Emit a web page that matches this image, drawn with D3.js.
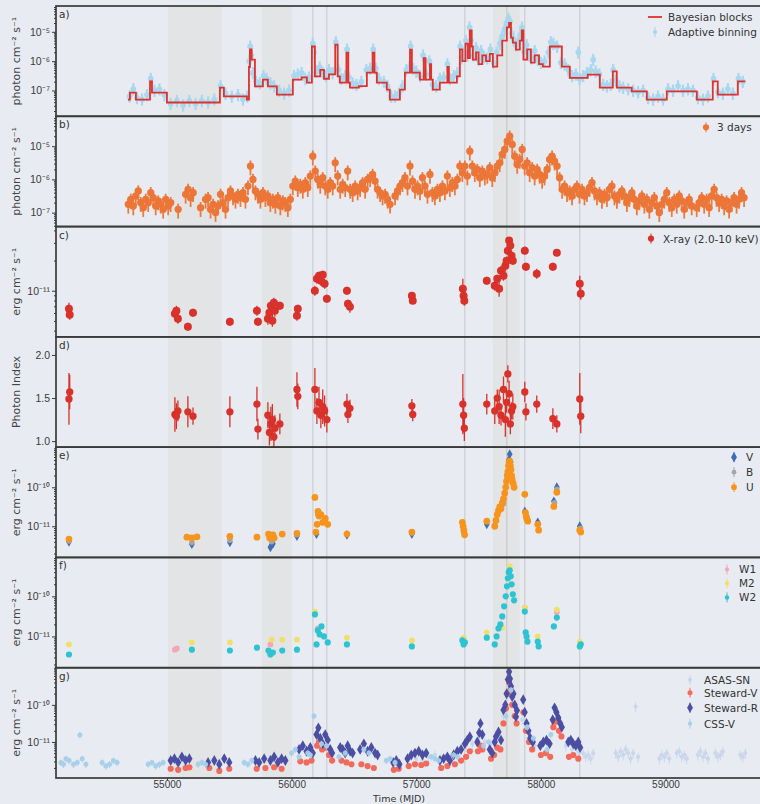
<!DOCTYPE html>
<html lang="en">
<head>
<meta charset="utf-8">
<title>Multi-wavelength light curves</title>
<script src="https://d3js.org/d3.v7.min.js"></script>
<style>
  body { margin: 0; background: #e8ecf2; }
  svg { display: block; font-family: "DejaVu Sans", sans-serif; }
  .tick text { fill: #3a3a3a; font-size: 10.5px; }
  .tick line { stroke: #3a3a3a; }
  .domain { display: none; }
  .leg { fill: #333; font-size: 10.5px; }
</style>
</head>
<body>
<script>
// ---------- data (time in MJD, fluxes as log10 values) ----------

var shadeBands = [[55008, 55441], [55762, 56002], [57614, 57831]];
var markLines = [56171, 56283, 57390, 57727, 57871, 58312];

// a) Fermi-LAT: Bayesian blocks (block start, log flux) and adaptive binning
var bbStart = [54687, 54703, 54751, 54864, 54880, 55000, 55425, 55457, 55642, 55658, 55666, 55680, 55706, 55770, 55810, 55882, 56010, 56080, 56123, 56163, 56187, 56230, 56260, 56300, 56350, 56370, 56387, 56440, 56455, 56468, 56540, 56604, 56650, 56665, 56684, 56764, 56788, 56869, 56909, 56950, 56965, 57029, 57060, 57075, 57110, 57120, 57133, 57189, 57250, 57262, 57326, 57350, 57370, 57395, 57415, 57430, 57445, 57454, 57480, 57500, 57530, 57560, 57590, 57615, 57650, 57690, 57727, 57745, 57760, 57775, 57800, 57831, 57847, 57860, 57890, 57920, 57950, 57985, 58016, 58072, 58168, 58232, 58376, 58473, 58577, 58609, 58729, 58850, 59010, 59251, 59379, 59419, 59580];
var bbLogF = [-7.31, -7.07, -7.31, -6.69, -7.07, -7.41, -6.9, -7.2, -7.31, -6.2, -5.6, -5.95, -6.86, -6.63, -6.86, -7.14, -6.63, -6.55, -6.73, -5.5, -6.52, -6.3, -6.6, -6.45, -5.44, -6.52, -6.73, -5.71, -6.73, -6.9, -6.85, -6.39, -5.71, -6.39, -6.73, -6.97, -7.31, -6.97, -6.39, -5.61, -6.39, -6.63, -5.9, -6.63, -6.1, -6.63, -6.97, -6.73, -6.2, -6.73, -6.52, -5.6, -6.0, -5.4, -5.9, -4.95, -5.5, -5.95, -5.7, -6.1, -5.8, -6.0, -5.75, -6.19, -5.8, -5.3, -4.85, -4.7, -5.2, -5.37, -5.61, -5.3, -4.95, -5.95, -5.6, -6.05, -5.8, -6.1, -6.19, -5.5, -6.19, -6.57, -6.46, -6.9, -6.35, -6.9, -7.03, -7.31, -7.03, -7.31, -6.69, -7.14, -6.69];
var bbEnd = 59640;

var adaptive = [[54700, -7.2], [54730, -6.95], [54760, -7.25], [54800, -7.3], [54840, -7.15], [54870, -6.6], [54900, -7.0], [54940, -6.95], [54980, -7.15], [55030, -7.45], [55080, -7.35], [55130, -7.5], [55180, -7.35], [55230, -7.45], [55280, -7.35], [55330, -7.4], [55380, -7.3], [55430, -6.85], [55470, -7.1], [55520, -7.2], [55570, -7.15], [55610, -7.3], [55645, -7.2], [55660, -6.0], [55668, -5.5], [55676, -5.8], [55690, -6.4], [55715, -6.7], [55745, -6.75], [55775, -6.5], [55800, -6.6], [55830, -6.75], [55860, -6.85], [55900, -7.0], [55940, -7.1], [55980, -7.0], [56020, -6.5], [56050, -6.45], [56080, -6.4], [56110, -6.6], [56140, -6.55], [56170, -5.4], [56180, -5.7], [56200, -6.35], [56225, -6.2], [56250, -6.4], [56275, -6.5], [56300, -6.3], [56330, -6.4], [56355, -5.35], [56375, -6.3], [56400, -6.6], [56430, -6.5], [56445, -5.6], [56460, -6.55], [56490, -6.75], [56520, -6.8], [56560, -6.7], [56600, -6.3], [56630, -6.25], [56655, -5.6], [56675, -6.25], [56700, -6.6], [56740, -6.7], [56770, -6.85], [56800, -7.2], [56830, -7.2], [56860, -7.1], [56890, -6.85], [56920, -6.3], [56945, -6.2], [56955, -5.5], [56975, -6.25], [57000, -6.35], [57030, -6.5], [57055, -5.8], [57080, -6.45], [57105, -6.0], [57130, -6.8], [57160, -6.85], [57190, -6.6], [57220, -6.55], [57250, -6.1], [57270, -6.6], [57300, -6.5], [57330, -6.4], [57352, -5.5], [57365, -5.9], [57385, -5.7], [57398, -5.3], [57412, -5.8], [57428, -4.85], [57440, -5.3], [57460, -5.8], [57480, -5.55], [57500, -5.95], [57520, -5.65], [57545, -5.85], [57570, -5.9], [57595, -5.6], [57620, -6.05], [57645, -5.7], [57670, -5.4], [57690, -5.15], [57710, -4.9], [57725, -4.7], [57740, -4.55], [57752, -4.65], [57765, -5.05], [57780, -5.25], [57800, -5.45], [57820, -5.3], [57835, -5.1], [57848, -4.85], [57865, -5.7], [57885, -5.45], [57905, -5.8], [57925, -5.9], [57950, -5.65], [57975, -5.95], [58000, -6.05], [58030, -6.0], [58060, -5.7], [58080, -5.35], [58100, -5.4], [58130, -5.5], [58160, -6.05], [58190, -6.1], [58220, -6.3], [58250, -6.5], [58280, -6.45], [58300, -5.7], [58310, -6.6], [58340, -6.5], [58370, -6.4], [58400, -6.3], [58420, -5.95], [58440, -6.35], [58470, -6.45], [58500, -6.8], [58530, -6.85], [58560, -6.8], [58580, -6.3], [58600, -6.65], [58630, -6.85], [58660, -6.9], [58700, -6.95], [58740, -7.0], [58780, -7.05], [58820, -7.0], [58860, -7.25], [58900, -7.3], [58940, -7.2], [58980, -7.3], [59020, -6.95], [59060, -7.0], [59100, -6.85], [59140, -7.0], [59180, -6.95], [59220, -7.0], [59260, -7.25], [59300, -7.3], [59340, -7.2], [59385, -6.6], [59420, -7.05], [59460, -7.1], [59500, -6.95], [59540, -7.1], [59585, -6.6], [59620, -6.7]];

// b) 3-day binned light curve, one value per 20 days starting at 54690 (null = no detection)
var b3dStart = 54690, b3dStep = 20;
var b3dLogF = [
  -6.75, -6.6, -6.8, -6.5, -6.35, -6.7, -6.85, -6.6, -6.7, -6.4,
  -6.55, -6.8, -6.65, -6.75, -6.9, -6.6, -6.8, -6.7, null, null,
  -6.9, null, null, -6.45, -6.3, -6.55, -6.4, null, null, -6.85,
  null, -6.6, -6.55, -6.9, -6.75, -7.0, -6.8, -6.45, -6.7, -6.9,
  -6.55, -6.35, -6.5, -6.6, -6.45, -6.55, -6.4, -6.6, -6.2, -5.6,
  -6.0, -6.35, -6.45, -6.6, -6.4, -6.55, -6.5, -6.7, -6.6, -6.75,
  -6.55, -6.8, -6.65, -6.7, -6.85, -6.6, -6.2, -6.05, -6.25, -6.15,
  -6.3, -6.1, -6.25, -5.9, -5.3, -5.75, -6.0, -6.15, -5.95, -6.2,
  -6.3, -6.1, -6.2, -5.5, -5.9, -6.3, -6.15, -6.25, -5.75, -6.3,
  -6.4, -6.2, -6.35, -6.25, -6.1, -6.3, -6.0, -5.95, -5.85, -6.05,
  -6.3, -6.4, -6.5, -6.45, -6.6, -6.75, null, -6.5, -6.35, -6.2,
  -6.1, -5.95, -6.2, -5.6, -6.05, -6.3, -6.2, -6.35, -5.95, -6.2,
  -6.45, -5.85, -6.4, -6.5, -6.3, -6.4, -6.2, -6.35, -5.9, -6.25,
  -6.1, -6.2, -6.0, -5.6, -5.8, -5.6, -5.9, -5.15, -5.6, -5.8,
  -5.7, -5.95, -5.75, -5.9, -5.85, -5.65, -5.95, -5.8, -5.6, -5.5,
  -5.25, -5.1, -4.85, -4.7, -4.95, -5.3, -5.55, -5.4, -5.1, -5.6,
  -5.5, -5.8, -5.65, -5.9, -5.7, -5.85, -6.0, -5.9, -5.7, -5.4,
  -5.3, -5.45, -5.6, -5.95, -6.3, -6.2, -6.4, -6.35, -6.5, -6.3,
  -6.2, -6.45, -6.3, -6.5, -6.4, -6.25, -6.1, -6.35, -6.5, -6.4,
  -6.6, -6.45, -6.55, -6.3, -6.2, -6.5, -6.6, -6.45, -6.35, -6.5,
  -6.7, -6.55, -6.4, -6.6, -6.8, -6.65, -6.5, -6.75, -6.6, -6.9,
  -6.7, -6.55, -6.8, -7.0, -6.75, -6.6, -6.4, -6.7, -6.85, -6.6,
  -6.75, -6.5, -6.65, -6.9, -6.7, -6.6, -6.8, null, -6.85, -6.7,
  -6.55, -6.75, -6.6, -6.85, -6.5, -6.3, -6.55, -6.7, -6.6, -6.8,
  -6.65, -6.9, -6.7, -6.55, -6.75, -6.6, -6.4, -6.55
];

// c) + d) Swift-XRT: flux (log, 2-10 keV), error (dex), photon index and error
var xrT = [54214, 54220, 55064, 55076, 55088, 55168, 55209, 55505, 55722, 55730, 55810, 55822, 55834, 55846, 55858, 55866, 55906, 56043, 56050, 56187, 56203, 56220, 56235, 56250, 56265, 56283, 56444, 56452, 56468, 56965, 56972, 57374, 57380, 57386, 57566, 57630, 57650, 57665, 57680, 57700, 57715, 57725, 57735, 57745, 57755, 57765, 57775, 57871, 57880, 57967, 58096, 58128, 58312, 58320];
var xrLogF = [-11.18, -11.24, -11.23, -11.2, -11.28, -11.36, -11.22, -11.31, -11.2, -11.31, -11.28, -11.22, -11.15, -11.3, -11.12, -11.2, -11.15, -11.25, -11.18, -11.0, -10.88, -10.85, -10.9, -10.84, -10.93, -11.08, -11.0, -11.13, -11.16, -11.05, -11.1, -10.98, -11.05, -11.1, -10.9, -10.95, -10.88, -10.98, -10.8, -10.85, -10.75, -10.7, -10.6, -10.5, -10.55, -10.65, -10.7, -10.6, -10.76, -10.83, -10.76, -10.62, -10.93, -11.03];
var xrFErr = [0.06, 0.05, 0.05, 0.05, 0.05, 0.04, 0.04, 0.04, 0.05, 0.04, 0.06, 0.05, 0.05, 0.06, 0.05, 0.06, 0.04, 0.05, 0.04, 0.05, 0.05, 0.04, 0.05, 0.04, 0.05, 0.04, 0.04, 0.04, 0.06, 0.03, 0.03, 0.1, 0.06, 0.05, 0.04, 0.05, 0.04, 0.08, 0.05, 0.05, 0.06, 0.04, 0.04, 0.03, 0.04, 0.05, 0.04, 0.04, 0.04, 0.05, 0.04, 0.03, 0.08, 0.06];
var xrIdx = [1.49, 1.57, 1.31, 1.29, 1.35, 1.34, 1.29, 1.34, 1.43, 1.14, 1.3, 1.1, 1.2, 1.25, 1.05, 1.15, 1.2, 1.6, 1.52, 1.6, 1.35, 1.45, 1.3, 1.4, 1.35, 1.25, 1.43, 1.31, 1.38, 1.41, 1.31, 1.43, 1.3, 1.15, 1.43, 1.35, 1.5, 1.4, 1.3, 1.6, 1.25, 1.45, 1.78, 1.55, 1.2, 1.35, 1.4, 1.57, 1.34, 1.43, 1.26, 1.2, 1.49, 1.29];
var xrIdxErr = [0.3, 0.2, 0.2, 0.15, 0.12, 0.18, 0.1, 0.18, 0.2, 0.12, 0.15, 0.15, 0.2, 0.18, 0.12, 0.15, 0.12, 0.2, 0.15, 0.25, 0.15, 0.18, 0.15, 0.2, 0.18, 0.15, 0.12, 0.1, 0.1, 0.08, 0.08, 0.35, 0.2, 0.15, 0.12, 0.15, 0.1, 0.2, 0.12, 0.15, 0.2, 0.12, 0.1, 0.15, 0.12, 0.1, 0.15, 0.12, 0.1, 0.1, 0.12, 0.1, 0.3, 0.2];

// e) UVOT optical filters
var uvV = [[54214, -11.4], [55200, -11.46], [55505, -11.41], [55830, -11.54], [55850, -11.45], [56043, -11.25], [56200, -11.2], [56444, -11.22], [56965, -11.2], [57380, -11.15], [57566, -10.95], [57700, -10.4], [57728, -9.8], [57742, -9.3], [57750, -9.15], [57758, -9.35], [57871, -10.62], [57885, -10.75], [57975, -10.9], [58104, -10.36], [58128, -10.0], [58312, -11.0]];
var uvB = [[54214, -11.38], [55200, -11.42], [55505, -11.36], [55840, -11.4], [56043, -11.22], [56210, -10.7], [56444, -11.2], [56965, -11.17], [57380, -11.08], [57700, -10.42], [57745, -9.35], [57880, -10.7], [57975, -10.95], [58110, -10.4], [58128, -10.05], [58318, -11.05]];
var uvU = [[54214, -11.33], [55160, -11.28], [55200, -11.3], [55241, -11.27], [55505, -11.26], [55722, -11.28], [55815, -11.2], [55825, -11.3], [55835, -11.25], [55850, -11.22], [55860, -11.3], [55925, -11.2], [56043, -11.18], [56187, -10.26], [56195, -11.15], [56205, -10.95], [56212, -10.62], [56220, -10.74], [56235, -10.7], [56250, -10.9], [56270, -10.8], [56290, -10.95], [56444, -11.2], [56965, -11.15], [57370, -10.9], [57376, -11.0], [57382, -11.1], [57388, -11.22], [57566, -10.87], [57630, -11.0], [57640, -10.85], [57650, -10.7], [57660, -10.6], [57670, -10.5], [57680, -10.55], [57690, -10.4], [57700, -10.3], [57710, -10.15], [57718, -10.0], [57724, -9.85], [57730, -9.7], [57735, -9.6], [57740, -9.45], [57745, -9.35], [57750, -9.33], [57755, -9.45], [57760, -9.55], [57765, -9.7], [57770, -9.8], [57778, -9.9], [57785, -10.0], [57871, -10.18], [57876, -10.65], [57882, -10.75], [57888, -10.82], [57895, -10.87], [57975, -10.95], [57982, -11.1], [58104, -10.49], [58128, -10.13], [58312, -11.1], [58320, -11.15]];

// f) UVOT ultraviolet filters
var uvW1 = [[55064, -11.33], [55080, -11.3], [55830, -11.2], [56210, -10.8], [57380, -11.05], [57871, -10.28], [58128, -10.4]];
var uvM2 = [[54214, -11.2], [55200, -11.15], [55505, -11.15], [55840, -11.08], [55925, -11.08], [56043, -11.08], [56187, -10.38], [56444, -11.03], [56965, -11.1], [57380, -11.03], [57566, -10.9], [57690, -10.78], [57750, -9.25], [57871, -10.28], [57975, -11.0], [58128, -10.33], [58312, -11.13]];
var uvW2 = [[54214, -11.45], [55200, -11.33], [55505, -11.35], [55722, -11.28], [55815, -11.35], [55830, -11.45], [55850, -11.4], [55925, -11.35], [56043, -11.33], [56187, -10.45], [56200, -11.2], [56210, -10.85], [56225, -10.95], [56240, -10.75], [56260, -11.0], [56290, -11.15], [56444, -11.2], [56965, -11.25], [57370, -11.1], [57380, -11.2], [57390, -11.15], [57566, -11.03], [57630, -11.2], [57645, -11.0], [57660, -10.8], [57675, -10.7], [57690, -10.5], [57705, -10.25], [57718, -10.0], [57728, -9.75], [57735, -9.55], [57742, -9.4], [57750, -9.35], [57758, -9.5], [57765, -9.7], [57775, -9.95], [57785, -10.1], [57871, -10.38], [57878, -10.9], [57885, -11.0], [57892, -11.13], [57975, -11.13], [57982, -11.25], [58104, -10.75], [58128, -10.53], [58312, -11.25], [58320, -11.2]];

// g) ground-based optical
var asassn = [[57000, -11.45], [57050, -11.5], [57100, -11.4], [57150, -11.35], [57200, -11.45], [57250, -11.4], [57300, -11.3], [57350, -11.25], [57400, -11.1], [57450, -11.05], [57500, -10.9], [57550, -11.0], [57600, -11.05], [57650, -10.85], [57700, -10.3], [57750, -9.5], [57800, -10.2], [57850, -10.4], [57900, -10.9], [57950, -11.1], [58000, -11.15], [58050, -11.0], [58100, -10.5], [58150, -10.7], [58200, -11.1], [58250, -11.2], [58300, -11.25], [58340, -11.3], [58360, -11.4], [58380, -11.35], [58400, -11.45], [58420, -11.3], [58600, -11.3], [58620, -11.4], [58640, -11.25], [58660, -11.35], [58680, -11.2], [58700, -11.3], [58720, -11.45], [58740, -11.3], [58760, -10.05], [58780, -11.4], [58950, -11.45], [58970, -11.35], [58990, -11.4], [59010, -11.3], [59030, -11.45], [59090, -11.3], [59110, -11.25], [59130, -11.4], [59150, -11.35], [59170, -11.45], [59260, -11.35], [59280, -11.25], [59300, -11.4], [59320, -11.3], [59340, -11.45], [59400, -11.3], [59420, -11.4], [59440, -11.35], [59460, -11.25], [59600, -11.35], [59620, -11.4], [59640, -11.3]];
var stewV = [[55030, -11.72], [55090, -11.75], [55150, -11.7], [55180, -11.68], [55340, -11.7], [55420, -11.78], [55500, -11.72], [55720, -11.72], [55790, -11.7], [55860, -11.68], [55920, -11.72], [56070, -11.52], [56120, -11.55], [56160, -11.5], [56205, -11.1], [56220, -11.0], [56245, -11.2], [56275, -11.15], [56300, -11.35], [56325, -11.5], [56400, -11.5], [56440, -11.55], [56480, -11.6], [56560, -11.6], [56610, -11.65], [56660, -11.7], [56820, -11.75], [56860, -11.72], [56940, -11.65], [56990, -11.6], [57040, -11.62], [57080, -11.58], [57200, -11.7], [57250, -11.65], [57310, -11.6], [57360, -11.5], [57400, -11.4], [57430, -11.25], [57495, -11.25], [57515, -11.1], [57530, -11.2], [57600, -11.45], [57625, -11.35], [57650, -11.15], [57675, -11.2], [57700, -10.5], [57720, -10.1], [57735, -9.7], [57745, -9.4], [57755, -9.6], [57770, -10.0], [57790, -10.3], [57805, -10.5], [57860, -10.2], [57880, -10.7], [57905, -11.0], [57930, -11.2], [58000, -11.35], [58040, -11.3], [58075, -11.4], [58100, -10.6], [58120, -10.45], [58145, -10.7], [58165, -10.85], [58225, -11.4], [58260, -11.35], [58300, -11.45]];
var stewR = [[55030, -11.5], [55060, -11.45], [55090, -11.55], [55120, -11.4], [55150, -11.5], [55180, -11.45], [55330, -11.55], [55380, -11.5], [55420, -11.6], [55460, -11.45], [55500, -11.55], [55710, -11.5], [55740, -11.55], [55780, -11.45], [55830, -11.5], [55860, -11.4], [55890, -11.55], [55920, -11.45], [55950, -11.5], [56060, -11.2], [56090, -11.1], [56120, -11.25], [56150, -11.15], [56170, -11.3], [56200, -10.8], [56215, -10.62], [56230, -10.9], [56250, -11.05], [56270, -10.8], [56290, -10.95], [56310, -11.2], [56325, -11.3], [56390, -11.15], [56410, -11.2], [56430, -11.3], [56450, -11.1], [56470, -11.25], [56490, -11.3], [56550, -11.2], [56580, -11.05], [56610, -11.25], [56640, -11.15], [56670, -11.3], [56690, -11.35], [56815, -11.55], [56840, -11.5], [56865, -11.6], [56930, -11.45], [56960, -11.35], [56990, -11.3], [57020, -11.25], [57050, -11.35], [57080, -11.3], [57190, -11.5], [57220, -11.45], [57250, -11.4], [57270, -11.5], [57300, -11.35], [57330, -11.25], [57360, -11.2], [57390, -11.05], [57410, -10.95], [57430, -10.86], [57490, -11.0], [57505, -10.75], [57515, -10.5], [57530, -10.8], [57590, -11.2], [57610, -11.3], [57630, -11.0], [57640, -10.85], [57660, -10.73], [57680, -10.95], [57700, -10.14], [57715, -10.0], [57725, -9.7], [57735, -9.32], [57745, -9.11], [57752, -9.3], [57760, -9.5], [57770, -9.78], [57780, -9.7], [57790, -10.0], [57800, -10.32], [57808, -10.15], [57858, -9.86], [57870, -10.2], [57885, -10.5], [57900, -10.7], [57915, -10.9], [57935, -11.0], [57995, -11.1], [58020, -11.0], [58045, -10.95], [58070, -11.05], [58095, -10.4], [58110, -10.08], [58125, -10.2], [58140, -10.35], [58155, -10.5], [58168, -10.6], [58220, -11.0], [58240, -10.95], [58260, -11.05], [58280, -11.1], [58300, -11.0], [58315, -11.15]];
var cssV = [[54150, -11.55], [54170, -11.6], [54190, -11.45], [54215, -11.5], [54250, -11.6], [54280, -11.55], [54302, -10.81], [54320, -11.45], [54350, -11.6], [54480, -11.55], [54510, -11.65], [54540, -11.6], [54570, -11.5], [54600, -11.55], [54850, -11.6], [54880, -11.55], [54910, -11.65], [54940, -11.6], [54970, -11.55], [55250, -11.6], [55280, -11.55], [55310, -11.6], [55620, -11.55], [55650, -11.6], [55680, -11.5], [56000, -11.3], [56030, -11.2], [56060, -11.4], [56130, -11.3], [56150, -11.35], [56180, -10.3], [56240, -11.05], [56280, -11.1], [56380, -11.4], [56430, -11.3], [56580, -11.2], [56620, -11.3], [56760, -11.5], [56790, -11.45], [56830, -11.55], [57120, -11.4], [57150, -11.45], [57180, -11.5], [57300, -11.35], [57330, -11.4], [57540, -11.1], [57580, -11.0], [57720, -10.3], [57760, -9.6], [57890, -10.6], [57940, -10.9], [58050, -11.2], [58080, -10.8]];

// ---------- layout ----------
var W = 760, H = 804;
var left = 56, right = 764, top0 = 6, bottom0 = 778;
var nP = 7, ph = (bottom0 - top0) / nP;

var x = d3.scaleLinear().domain([54110, 59790]).range([left, right]);

var svg = d3.select("body").append("svg").attr("width", W).attr("height", H);
svg.append("rect").attr("width", W).attr("height", H).attr("fill", "#e8ecf2");

var defs = svg.append("defs");
defs.append("filter").attr("id", "soft")
  .append("feGaussianBlur").attr("stdDeviation", 0.4);
defs.append("clipPath").attr("id", "allclip").append("rect")
  .attr("x", left).attr("y", top0).attr("width", right - left).attr("height", bottom0 - top0);

// shaded intervals and vertical markers spanning all panels
var back = svg.append("g").attr("clip-path", "url(#allclip)");
back.selectAll("rect.band").data(shadeBands).enter().append("rect")
  .attr("class", "band")
  .attr("x", function(d) { return x(d[0]); })
  .attr("width", function(d) { return x(d[1]) - x(d[0]); })
  .attr("y", top0).attr("height", bottom0 - top0)
  .attr("fill", "#dcd9d5").attr("opacity", 0.4);
back.selectAll("line.mark").data(markLines).enter().append("line")
  .attr("class", "mark")
  .attr("x1", function(d) { return x(d); }).attr("x2", function(d) { return x(d); })
  .attr("y1", top0).attr("y2", bottom0)
  .attr("stroke", "#a8a8a8").attr("stroke-width", 1).attr("opacity", 0.55);

var sup = {"-": "\u207B", "0": "\u2070", "1": "\u00B9", "2": "\u00B2", "3": "\u00B3", "4": "\u2074",
           "5": "\u2075", "6": "\u2076", "7": "\u2077", "8": "\u2078", "9": "\u2079"};
function powFmt(d) {
  var e = String(Math.round(Math.log10(d)));
  return "10" + e.split("").map(function(c) { return sup[c]; }).join("");
}

var fluxLabel = "photon cm\u207B\u00B2 s\u207B\u00B9";
var ergLabel = "erg cm\u207B\u00B2 s\u207B\u00B9";

var panels = [
  {tag: "a)", dom: [-7.88, -4.12], ticks: [1e-7, 1e-6, 1e-5], label: fluxLabel},
  {tag: "b)", dom: [-7.42, -4.10], ticks: [1e-7, 1e-6, 1e-5], label: fluxLabel},
  {tag: "c)", dom: [-11.46, -10.36], ticks: [1e-11], label: ergLabel},
  {tag: "d)", lin: [0.93, 2.21], ticks: [1.0, 1.5, 2.0], label: "Photon Index"},
  {tag: "e)", dom: [-11.80, -8.97], ticks: [1e-11, 1e-10], label: ergLabel},
  {tag: "f)", dom: [-11.78, -9.03], ticks: [1e-11, 1e-10], label: ergLabel},
  {tag: "g)", dom: [-11.97, -9.00], ticks: [1e-11, 1e-10], label: ergLabel}
];

panels.forEach(function(p, i) {
  p.top = top0 + i * ph;
  p.bot = p.top + ph;
  if (p.lin) p.y = d3.scaleLinear().domain(p.lin).range([p.bot, p.top]);
  else p.y = d3.scaleLog().domain([Math.pow(10, p.dom[0]), Math.pow(10, p.dom[1])]).range([p.bot, p.top]);
  defs.append("clipPath").attr("id", "clip" + i).append("rect")
    .attr("x", left).attr("y", p.top).attr("width", right - left).attr("height", ph);
  p.g = svg.append("g").attr("clip-path", "url(#clip" + i + ")")
    .append("g").attr("filter", "url(#soft)");
});

function fromLog(arr, err) {
  return arr.filter(function(d) { return d[1] != null; }).map(function(d) {
    return {t: d[0], v: Math.pow(10, d[1]), lo: Math.pow(10, d[1] - err[0]), hi: Math.pow(10, d[1] + err[1])};
  });
}

function drawSeries(g, y, data, o) {
  var s = g.append("g").attr("opacity", o.op == null ? 1 : o.op);
  s.selectAll("line").data(data).enter().append("line")
    .attr("x1", function(d) { return x(d.t); }).attr("x2", function(d) { return x(d.t); })
    .attr("y1", function(d) { return y(d.lo); }).attr("y2", function(d) { return y(d.hi); })
    .attr("stroke", o.ec || o.c).attr("stroke-width", o.ew || 1);
  var sym = d3.symbol().type(o.shape || d3.symbolCircle).size(o.size || 30);
  s.selectAll("path").data(data).enter().append("path")
    .attr("transform", function(d) { return "translate(" + x(d.t) + "," + y(d.v) + ")"; })
    .attr("d", sym)
    .attr("fill", o.c)
    .attr("stroke", o.sc || "none").attr("stroke-width", 0.6);
}

// ---- a) ----
var pa = panels[0];
drawSeries(pa.g, pa.y, fromLog(adaptive, [0.22, 0.2]), {c: "#a6d6f0", size: 26, ew: 2.2, op: 0.95});
var bbPts = bbStart.map(function(t, i) { return [t, bbLogF[i]]; });
bbPts.push([bbEnd, bbLogF[bbLogF.length - 1]]);
pa.g.append("path").datum(bbPts)
  .attr("fill", "none").attr("stroke", "#e0302c").attr("stroke-width", 1.8)
  .attr("d", d3.line().curve(d3.curveStepAfter)
    .x(function(d) { return x(d[0]); })
    .y(function(d) { return pa.y(Math.pow(10, d[1])); }));

// ---- b) ----
var pb = panels[1];
var b3d = b3dLogF.map(function(v, i) { return [b3dStart + i * b3dStep, v]; });
drawSeries(pb.g, pb.y, fromLog(b3d, [0.28, 0.17]), {c: "#ec7638", ec: "#ec7a3e", size: 42, ew: 1.8});

// ---- c) and d) ----
var pc = panels[2], pd = panels[3];
var xrF = xrT.map(function(t, i) {
  return {t: t, v: Math.pow(10, xrLogF[i]), lo: Math.pow(10, xrLogF[i] - xrFErr[i]), hi: Math.pow(10, xrLogF[i] + xrFErr[i])};
});
drawSeries(pc.g, pc.y, xrF, {c: "#d8302a", size: 50, ew: 1.3});
var xrI = xrT.map(function(t, i) {
  return {t: t, v: xrIdx[i], lo: xrIdx[i] - xrIdxErr[i], hi: xrIdx[i] + xrIdxErr[i]};
});
drawSeries(pd.g, pd.y, xrI, {c: "#d8302a", size: 42, ew: 1.3});

// ---- e) ----
var pe = panels[4];
drawSeries(pe.g, pe.y, fromLog(uvV, [0.04, 0.04]), {c: "#3f6db3", shape: d3.symbolDiamond, size: 28});
drawSeries(pe.g, pe.y, fromLog(uvB, [0.04, 0.04]), {c: "#a5a5ab", size: 24});
drawSeries(pe.g, pe.y, fromLog(uvU, [0.04, 0.04]), {c: "#f7941d", size: 36});

// ---- f) ----
var pf = panels[5];
drawSeries(pf.g, pf.y, fromLog(uvW1, [0.04, 0.04]), {c: "#f2a7b4", size: 26});
drawSeries(pf.g, pf.y, fromLog(uvM2, [0.04, 0.04]), {c: "#f0e06a", size: 26});
drawSeries(pf.g, pf.y, fromLog(uvW2, [0.04, 0.04]), {c: "#2ec3d2", size: 30});

// ---- g) ----
var pg = panels[6];
drawSeries(pg.g, pg.y, fromLog(asassn, [0.15, 0.12]), {c: "#c6d4ea", size: 14, op: 0.9});
drawSeries(pg.g, pg.y, fromLog(stewV, [0.05, 0.05]), {c: "#f26b5b", size: 30});
drawSeries(pg.g, pg.y, fromLog(stewR, [0.05, 0.05]), {c: "#4c4fa3", shape: d3.symbolDiamond, size: 34});
drawSeries(pg.g, pg.y, fromLog(cssV, [0.1, 0.08]), {c: "#a6cfea", size: 20, op: 0.95});

// ---- axes, frames, labels ----
panels.forEach(function(p, i) {
  var fmt = p.lin ? d3.format(".1f") : powFmt;
  if (!p.lin) {
    var minor = p.y.ticks().filter(function(d) { return p.ticks.indexOf(d) < 0; });
    svg.append("g").attr("transform", "translate(" + left + ",0)")
      .call(d3.axisLeft(p.y).tickValues(minor).tickFormat("").tickSize(2));
  }
  svg.append("g").attr("transform", "translate(" + left + ",0)")
    .call(d3.axisLeft(p.y).tickValues(p.ticks).tickFormat(fmt).tickSize(4).tickPadding(2));

  svg.append("rect").attr("x", left).attr("y", p.top).attr("width", right - left).attr("height", ph)
    .attr("fill", "none").attr("stroke", "#3a3a3a").attr("stroke-width", 1.7);

  svg.append("text").attr("x", left + 3).attr("y", p.top + 12)
    .attr("font-size", 10.5).attr("fill", "#333").text(p.tag);

  svg.append("text")
    .attr("transform", "translate(20," + (p.top + ph / 2) + ") rotate(-90)")
    .attr("text-anchor", "middle").attr("font-size", 11).attr("fill", "#444")
    .text(p.label);
});

var xAxis = svg.append("g").attr("transform", "translate(0," + bottom0 + ")")
  .call(d3.axisBottom(x).tickValues([55000, 56000, 57000, 58000, 59000]).tickFormat(d3.format("d")).tickSize(2).tickPadding(1));
xAxis.selectAll(".tick text").style("font-size", "10px");
svg.append("text").attr("x", 399).attr("y", 802).attr("text-anchor", "middle")
  .attr("font-size", 9.5).attr("fill", "#333").text("Time (MJD)");

// ---- legends ----
function legend(p, tx, mx, rows) {
  var g = svg.append("g");
  rows.forEach(function(r) {
    var yy = p.top + r.dy;
    if (r.kind === "line") {
      g.append("line").attr("x1", mx - 7).attr("x2", mx + 7).attr("y1", yy).attr("y2", yy)
        .attr("stroke", r.c).attr("stroke-width", 1.8);
    } else {
      g.append("line").attr("x1", mx).attr("x2", mx).attr("y1", yy - 5).attr("y2", yy + 5)
        .attr("stroke", r.c).attr("stroke-width", 1).attr("opacity", r.op || 1);
      g.append("path").attr("transform", "translate(" + mx + "," + yy + ")")
        .attr("d", d3.symbol().type(r.shape || d3.symbolCircle).size(r.size || 26))
        .attr("fill", r.c).attr("opacity", r.op || 1);
    }
    g.append("text").attr("class", "leg").attr("x", tx).attr("y", yy + 4).text(r.name);
  });
}
legend(panels[0], 668, 655, [
  {name: "Bayesian blocks", c: "#e0302c", kind: "line", dy: 11},
  {name: "Adaptive binning", c: "#a6d6f0", dy: 26, size: 14}
]);
legend(panels[1], 717, 706, [{name: "3 days", c: "#ec7638", dy: 11, size: 30}]);
legend(panels[2], 663, 651, [{name: "X-ray (2.0-10 keV)", c: "#d8302a", dy: 12, size: 30}]);
legend(panels[4], 746, 734, [
  {name: "V", c: "#3f6db3", dy: 10, shape: d3.symbolDiamond, size: 30},
  {name: "B", c: "#a5a5ab", dy: 25, size: 18},
  {name: "U", c: "#f7941d", dy: 40, size: 26}
]);
legend(panels[5], 739, 727, [
  {name: "W1", c: "#f2a7b4", dy: 12, size: 14},
  {name: "M2", c: "#f0e06a", dy: 26, size: 14},
  {name: "W2", c: "#2ec3d2", dy: 40, size: 16}
]);
legend(panels[6], 704, 690, [
  {name: "ASAS-SN", c: "#c6d4ea", dy: 12, size: 12},
  {name: "Steward-V", c: "#f26b5b", dy: 25, size: 20},
  {name: "Steward-R", c: "#4c4fa3", dy: 40, shape: d3.symbolDiamond, size: 30},
  {name: "CSS-V", c: "#a6cfea", dy: 56, size: 14}
]);
</script>
</body>
</html>
